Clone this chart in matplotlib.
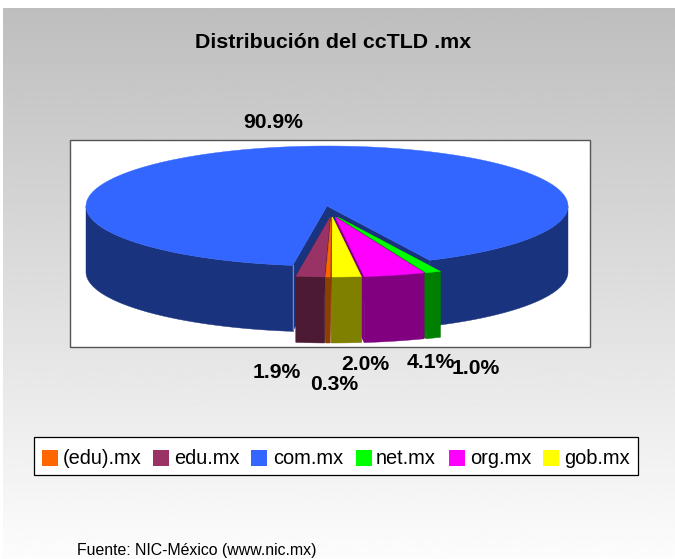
import numpy as np
import matplotlib
matplotlib.use("Agg")
import matplotlib.pyplot as plt
from matplotlib.patches import Polygon, Rectangle

plt.rcParams['font.family'] = ['Liberation Sans', 'DejaVu Sans']

# clockwise order, starting near the front of the pie
names = ["(edu).mx", "edu.mx", "com.mx", "net.mx", "org.mx", "gob.mx"]
values = [0.3, 1.9, 90.9, 1.0, 4.1, 2.0]
tops = ["#FF6600", "#993366", "#3366FF", "#00FF00", "#FF00FF", "#FFFF00"]
sides = ["#8B4000", "#4D1A33", "#19337F", "#008000", "#800080", "#808000"]

label_x = [334, 277, 273, 476, 431, 365]
label_y = [384, 372, 122, 368, 363, 364]
swatch_x = [42, 153, 251, 356, 449, 543]
text_x = [63, 174, 273, 376, 470, 564]

cx, cy = 327, 206
rx, ry = 241, 60
depth = 66

fig = plt.figure(figsize=(6.75, 5.59), dpi=100)
ax = fig.add_axes([0, 0, 1, 1])
ax.set_xlim(0, 675)
ax.set_ylim(559, 0)
ax.axis("off")

# grey to white background
grad = np.linspace(0.745, 0.99, 256).reshape(-1, 1)
ax.imshow(grad, cmap="gray", vmin=0, vmax=1, extent=(3, 675, 559, 8), aspect="auto", zorder=0)
ax.set_xlim(0, 675)
ax.set_ylim(559, 0)

ax.add_patch(Rectangle((70, 140), 520, 207, fc="white", ec="#555555", lw=1, zorder=1))


def arc(a0, a1, x0=cx, y0=cy):
    # angle 0 is the front of the pie, positive goes to the right
    t = np.radians(np.linspace(a0, a1, 200))
    return np.column_stack([x0 + rx * np.sin(t), y0 + ry * np.cos(t)])


def poly(pts, color, z):
    ax.add_patch(Polygon(pts, closed=True, fc=color, ec=color, lw=0.3, zorder=z))


# angle of every slice, going clockwise means the angle goes down
shares = np.array(values) / sum(values) * 360
end = 6.9 - shares[5] # (edu) starts right after gob
starts = {}
a = end
for i in [0, 1, 2, 3, 4, 5]:
    starts[i] = (a, a - shares[i])
    a -= shares[i]

# com.mx stays in place, its cut is open in the front
com0, com1 = starts[2]
com1 += 360
left_pt = arc(com0, com0, cx, cy)[0]
right_pt = arc(com1, com1, cx, cy)[0]

down = np.array([0, depth])
centre = np.array([cx, cy])
side_l = arc(com0, -90)
side_r = arc(90, com1)
poly(np.vstack([side_l, (side_l + down)[::-1]]), sides[2], 2)
poly(np.vstack([side_r, (side_r + down)[::-1]]), sides[2], 2)
poly([centre, left_pt, left_pt + down, centre + down], sides[2], 2)
poly([centre, right_pt, right_pt + down, centre + down], sides[2], 2)
poly(np.vstack([centre, arc(com1, com0 + 360)]), tops[2], 3)
ax.plot(*zip(left_pt, left_pt + down), color="#6F86C8", lw=0.8, zorder=3)

# the small slices are pulled out, far ones painted first
z = 4
for i in [3, 4, 1, 5, 0]:
    a0, a1 = starts[i]
    mid = np.radians((a0 + a1) / 2)
    x0 = cx + 4.5 + 15 * np.sin(mid)
    y0 = cy + 11
    o = np.array([x0, y0])
    edge = arc(a0, a1, x0, y0)
    poly([o, edge[0], edge[0] + down, o + down], sides[i], z)
    poly([o, edge[-1], edge[-1] + down, o + down], sides[i], z)
    poly(np.vstack([edge, (edge + down)[::-1]]), sides[i], z)
    poly(np.vstack([o, edge]), tops[i], z + 1)
    z += 2

for i in range(len(values)):
    ax.text(label_x[i], label_y[i], f"{values[i]:.1f}%", fontsize=15.2, fontweight="bold",
            ha="center", va="center", color="black", zorder=20)

ax.text(333, 43, "Distribución del ccTLD .mx", fontsize=15.4, fontweight="bold",
        ha="center", va="center", zorder=20)

# legend
ax.add_patch(Rectangle((33.5, 437), 604, 38, fc="white", ec="black", lw=0.9, zorder=1))
for i in range(len(names)):
    ax.add_patch(Rectangle((swatch_x[i], 450), 16, 16, fc=tops[i], ec="none", zorder=2))
    ax.text(text_x[i], 459, names[i], fontsize=14.4, ha="left", va="center", zorder=3)

ax.text(77, 550, "Fuente: NIC-México (www.nic.mx)", fontsize=11.4, ha="left", va="center", zorder=3)

fig.savefig("out.png", dpi=100)
